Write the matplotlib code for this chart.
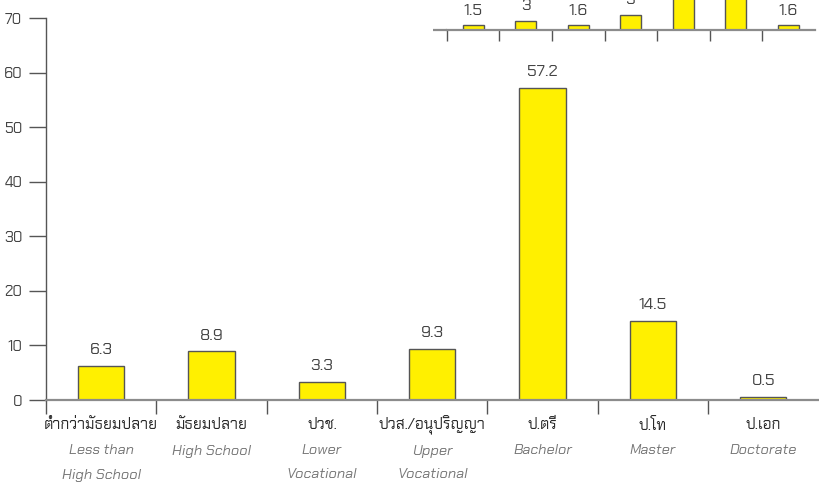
import matplotlib
matplotlib.use("Agg")
import matplotlib.pyplot as plt
from matplotlib.transforms import blended_transform_factory

plt.rcParams['font.family'] = ['Chakra Petch', 'DejaVu Sans']

# main chart data
labels_th = ['ต่ำกว่ามัธยมปลาย', 'มัธยมปลาย', 'ปวช.', 'ปวส./อนุปริญญา', 'ป.ตรี', 'ป.โท', 'ป.เอก']
labels_en = [['Less than', 'High School'], ['High School'], ['Lower', 'Vocational'],
             ['Upper', 'Vocational'], ['Bachelor'], ['Master'], ['Doctorate']]
values = [6.3, 8.9, 3.3, 9.3, 57.2, 14.5, 0.5]

# inset (top right, cut off by the frame)
inset_values = [1.5, 3, 1.6, 5, 55.1, 32.2, 1.6]

W, H = 819, 484
fig = plt.figure(figsize=(W / 100, H / 100), dpi=100)

yellow = '#FFF000'
edge = '#555555'
axis_grey = '#8c8c8c'
txt = '#444444'

def fx(px):
    return px / W

def fy(py):
    return 1 - py / H

# main axes: y spine at x=46, 0 at y=400, 70 at y=18
ax = fig.add_axes([fx(46), fy(400), fx(818.5 - 46), (400 - 18) / H])
x = list(range(len(values)))
ax.bar(x, values, width=0.42, color=yellow, edgecolor=edge, linewidth=1)
ax.set_xlim(-0.5, len(values) - 0.5)
ax.set_ylim(0, 70)
for xi, v in zip(x, values):
    ax.text(xi, v + 2.9, f'{v:g}', ha='center', va='center', fontsize=12, color=txt)

ax.spines['top'].set_visible(False)
ax.spines['right'].set_visible(False)
ax.spines['left'].set_color('#555555')
ax.spines['left'].set_linewidth(1)
ax.spines['bottom'].set_color(axis_grey)
ax.spines['bottom'].set_linewidth(1.6)

ax.set_yticks(range(0, 71, 10))
ax.tick_params(axis='y', length=12, width=1, color='#555555', pad=5,
               labelsize=11, labelcolor=txt)
ax.set_xticks([i - 0.5 for i in x])
ax.set_xticklabels([])
ax.tick_params(axis='x', length=10, width=1, color='#555555')

# category labels under the axis
tr = blended_transform_factory(ax.transData, fig.transFigure)
for xi, th, en in zip(x, labels_th, labels_en):
    ax.text(xi, fy(425), th, transform=tr, ha='center', va='center',
            fontsize=11, color='#2a2a2a')
    for k, line in enumerate(en):
        ax.text(xi, fy(451 + 24 * k), line, transform=tr, ha='center', va='center',
                fontsize=10.5, style='italic', color='#777777')

# inset axes: x-axis at y=30, categories 52.5 px wide starting at x=447
ins = fig.add_axes([fx(447), fy(30), fx(52.5 * 7), 60 * 3.1 / H])
ins.bar(x, inset_values, width=0.4, color=yellow, edgecolor=edge, linewidth=1)
ins.set_xlim(-0.5, len(values) - 0.5)
ins.set_ylim(0, 60)
for xi, v in zip(x, inset_values):
    ins.text(xi, v + 4.6, f'{v:g}', ha='center', va='center', fontsize=12, color=txt)
for s in ['top', 'right', 'left']:
    ins.spines[s].set_visible(False)
ins.spines['bottom'].set_color(axis_grey)
ins.spines['bottom'].set_linewidth(1.6)
ins.set_yticks([0])
ins.set_yticklabels([])
ins.tick_params(axis='y', length=10, width=1.6, color=axis_grey)
ins.set_xticks([i - 0.5 for i in x])
ins.set_xticklabels([])
ins.tick_params(axis='x', length=8, width=1, color='#555555')

fig.savefig('out.png', dpi=100)
